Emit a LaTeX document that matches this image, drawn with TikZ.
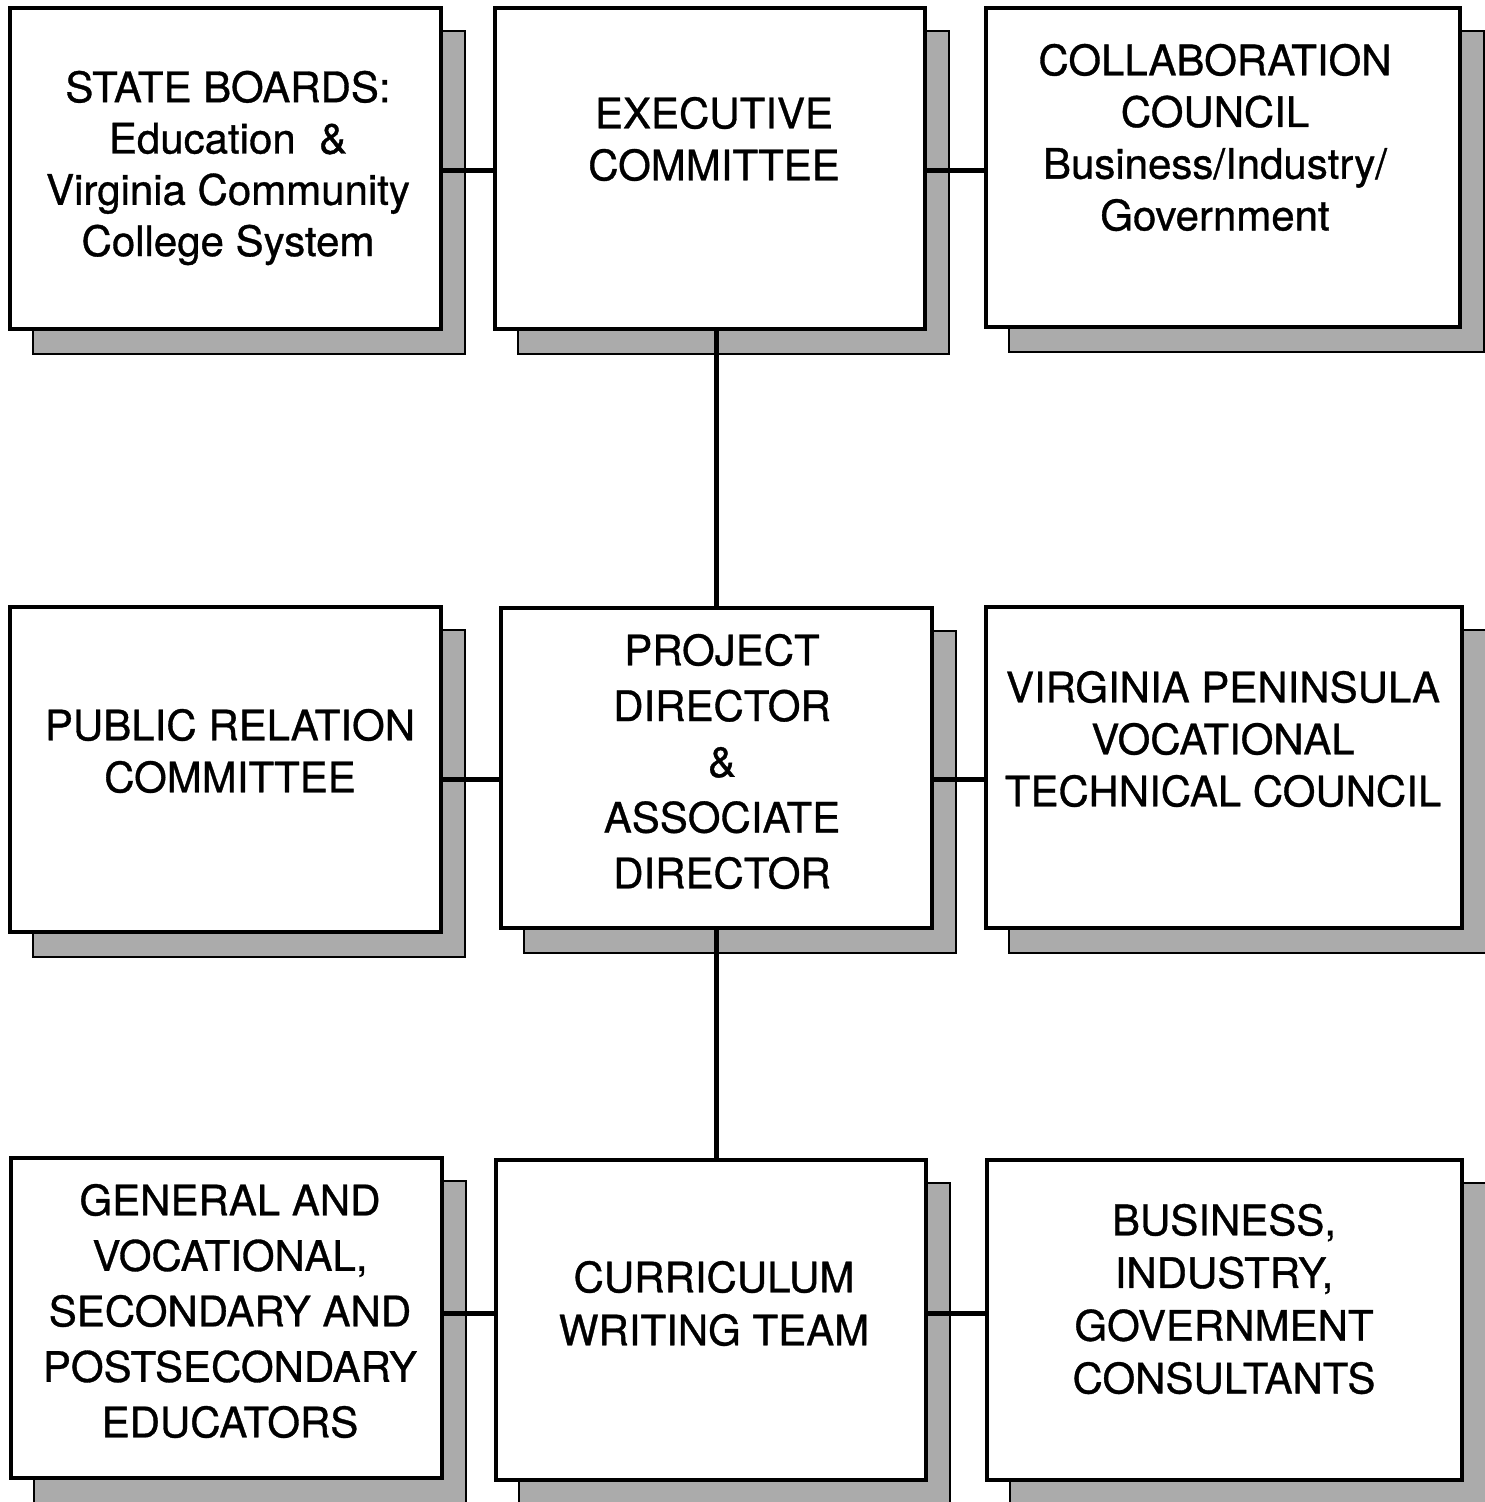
\documentclass[tikz,border=0pt]{standalone}
\usepackage{fontspec}
\setmainfont{TeX Gyre Heros}[FakeBold=0.8]
\begin{document}
\begin{tikzpicture}[x=1pt,y=-1pt,
  box/.style={draw=black, line width=3.5pt, fill=white, inner sep=0pt},
  dropshadow/.style={fill=black!33, draw=black, line width=1.5pt},
  boxtext/.style={align=center, inner sep=0pt, font=\fontsize{42}{#1}\selectfont},
  link/.style={draw=black, line width=5pt}]

\useasboundingbox (0,0) rectangle (1484,1502);

% a framed box with its offset drop shadow: name, x1, y1, x2, y2
\newcommand\orgbox[5]{%
  \path[dropshadow] (#2+23,#3+23) rectangle (#4+24,#5+25);
  \node[box, minimum width={#4-#2}, minimum height={#5-#3}] (#1) at ({(#2+#4)/2},{(#3+#5)/2}) {};
}

% top row
\orgbox{state}{10}{8}{441}{329}
\orgbox{exec}{495}{8}{925}{329}
\orgbox{collab}{986}{8}{1460}{327}
% middle row
\orgbox{pr}{10}{607}{441}{932}
\orgbox{proj}{501}{608}{932}{928}
\orgbox{vpen}{986}{607}{1462}{928}
% bottom row
\orgbox{educ}{11}{1158}{442}{1478}
\orgbox{curr}{496}{1160}{926}{1480}
\orgbox{cons}{987}{1160}{1462}{1480}

% box captions
\node[boxtext=51.3] (state-t) at (228,168) {STATE BOARDS:\\Education \ \&\\Virginia Community\\College System};
\node[boxtext=52] (exec-t) at (714,139) {EXECUTIVE\\COMMITTEE};
\node[boxtext=51.7] (collab-t) at (1215,137.5) {COLLABORATION\\COUNCIL\\Business/Industry/\\Government};
\node[boxtext=52] (pr-t) at (230,751) {PUBLIC RELATION\\COMMITTEE};
\node[boxtext=55.75] (proj-t) at (722,761.5) {PROJECT\\DIRECTOR\\\&\\ASSOCIATE\\DIRECTOR};
\node[boxtext=52] (vpen-t) at (1223,739) {VIRGINIA PENINSULA\\VOCATIONAL\\TECHNICAL COUNCIL};
\node[boxtext=55.5] (educ-t) at (230,1311) {GENERAL AND\\VOCATIONAL,\\SECONDARY AND\\POSTSECONDARY\\EDUCATORS};
\node[boxtext=53] (curr-t) at (714,1303.5) {CURRICULUM\\WRITING TEAM};
\node[boxtext=52.7] (cons-t) at (1224,1299) {BUSINESS,\\INDUSTRY,\\GOVERNMENT\\CONSULTANTS};

% connector levels
\coordinate (row1) at (0,170);
\coordinate (row2) at (0,779);
\coordinate (row3) at (0,1313);

% connectors
\draw[link] (state.east |- row1) -- (exec.west |- row1);
\draw[link] (exec.east |- row1) -- (collab.west |- row1);
\draw[link] (pr.east |- row2) -- (proj.west |- row2);
\draw[link] (proj.east |- row2) -- (vpen.west |- row2);
\draw[link] (educ.east |- row3) -- (curr.west |- row3);
\draw[link] (curr.east |- row3) -- (cons.west |- row3);
\draw[link] (proj.north) -- (proj.north |- exec.south);
\draw[link] (proj.south) -- (proj.south |- curr.north);
\end{tikzpicture}
\end{document}
